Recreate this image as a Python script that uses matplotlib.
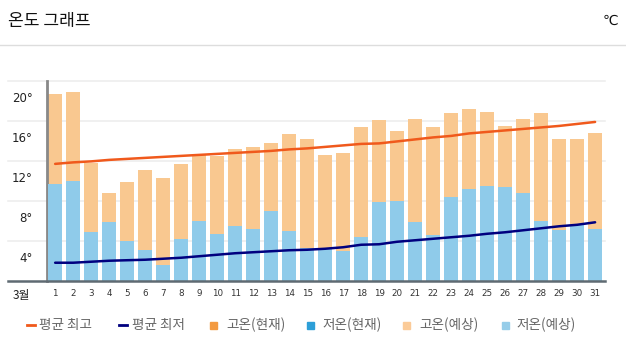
import matplotlib
matplotlib.use("Agg")
import matplotlib.pyplot as plt
from matplotlib.transforms import ScaledTranslation
from matplotlib.lines import Line2D
from matplotlib.patches import Rectangle

plt.rcParams['font.family'] = ['Noto Sans CJK KR', 'DejaVu Sans']

days = list(range(1, 32))
day_labels = [str(d) for d in days]
high = [18.7, 18.9, 11.8, 8.8, 9.9, 11.1, 10.3, 11.7, 12.6, 12.5, 13.2, 13.4, 13.8, 14.7, 14.2,
        12.6, 12.8, 15.4, 16.1, 15.0, 16.2, 15.4, 16.8, 17.2, 16.9, 15.5, 16.2, 16.8, 14.2, 14.2, 14.8]
low = [9.7, 10.0, 4.9, 5.9, 4.0, 3.1, 1.6, 4.2, 6.0, 4.7, 5.5, 5.2, 7.0, 5.0, 3.3,
       3.2, 3.0, 4.4, 7.9, 8.0, 5.9, 4.6, 8.4, 9.2, 9.5, 9.4, 8.8, 6.0, 5.1, 5.6, 5.2]
avg_high = [11.7, 11.85, 11.95, 12.1, 12.2, 12.3, 12.4, 12.5, 12.6, 12.7, 12.8, 12.9, 13.0, 13.15, 13.25,
            13.4, 13.55, 13.7, 13.75, 13.95, 14.15, 14.35, 14.5, 14.75, 14.9, 15.05, 15.2, 15.35, 15.5, 15.7, 15.9]
avg_low = [1.8, 1.8, 1.9, 2.0, 2.05, 2.1, 2.2, 2.3, 2.45, 2.6, 2.75, 2.85, 2.95, 3.05, 3.1,
           3.2, 3.35, 3.6, 3.65, 3.9, 4.05, 4.2, 4.35, 4.5, 4.7, 4.85, 5.05, 5.25, 5.45, 5.6, 5.85]
y_ticks = [4, 8, 12, 16, 20]
y_labels = ['4°', '8°', '12°', '16°', '20°']
legend_labels = ['평균 최고', '평균 최저', '고온(현재)', '저온(현재)', '고온(예상)', '저온(예상)']

c_high_bar = '#f9c890'
c_low_bar = '#8fcbea'
c_avg_high = '#f0591c'
c_avg_low = '#00007f'
legend_colors = [c_avg_high, c_avg_low, '#f39a40', '#2d9fd8', '#fbcb98', '#96cde9']

W, H = 626, 354
fig = plt.figure(figsize=(W / 100, H / 100), dpi=100)
left_px, right_px, top_px, bot_px = 46.7, 605, 81, 280.7
ax = fig.add_axes([left_px / W, 1 - bot_px / H, (right_px - left_px) / W, (bot_px - top_px) / H])

ax.bar(days, high, width=0.76, color=c_high_bar, zorder=2)
ax.bar(days, low, width=0.76, color=c_low_bar, zorder=3)
ax.plot(days, avg_high, color=c_avg_high, lw=1.8, zorder=4, solid_capstyle='round')
ax.plot(days, avg_low, color=c_avg_low, lw=1.8, zorder=4, solid_capstyle='round')

ax.set_xlim(0.53, 31.55)
ax.set_ylim(0, 20)
for s in ['top', 'right', 'bottom']:
    ax.spines[s].set_visible(False)
ax.spines['left'].set_color('#888888')
ax.spines['left'].set_linewidth(2)

xmin = (8 - left_px) / (right_px - left_px)
for v in y_ticks:
    ax.axhline(v, xmin=xmin, xmax=1, color='#eeeeee', lw=1.2, zorder=1, clip_on=False)
ax.axhline(0, xmin=xmin, xmax=1, color='#5f6a72', lw=1.8, zorder=5, clip_on=False)

ax.set_yticks(y_ticks)
ax.set_yticklabels(y_labels, fontsize=8.5, color='#222222', family=['DejaVu Sans'])
ax.tick_params(axis='y', length=0, pad=10)
off = ScaledTranslation(0, -16 / 100, fig.dpi_scale_trans)
for lab in ax.get_yticklabels():
    lab.set_transform(lab.get_transform() + off)

ax.set_xticks(days)
ax.set_xticklabels(day_labels, fontsize=6.3, color='#333333', family=['DejaVu Sans'])
ax.tick_params(axis='x', length=0, pad=6)

fig.text(21 / W, 1 - 295.5 / H, '3월', fontsize=8.5, ha='center', va='center', color='#222222')

# header
fig.text(8 / W, 1 - 21 / H, '온도 그래프', fontsize=12.3, ha='left', va='center', color='#111111')
fig.text(610 / W, 1 - 21 / H, '℃', fontsize=10, ha='center', va='center', color='#111111',
         family=['DejaVu Sans'])
fig.add_artist(Line2D([0, 1], [1 - 44.5 / H] * 2, transform=fig.transFigure, color='#dddddd', lw=1))

# legend
mark_x = [31, 123, 213, 310, 406, 505]
text_x = [39, 132, 226, 322, 419, 516]
ly = 1 - 325 / H
for i, lab in enumerate(legend_labels):
    if i < 2:
        fig.add_artist(Line2D([(mark_x[i] - 4) / W, (mark_x[i] + 4) / W], [ly, ly],
                              transform=fig.transFigure, color=legend_colors[i], lw=2))
    else:
        fig.add_artist(Rectangle(((mark_x[i] - 3.5) / W, ly - 3.5 / H), 7 / W, 7 / H,
                                 transform=fig.transFigure, color=legend_colors[i]))
    fig.text(text_x[i] / W, ly, lab, fontsize=9.8, ha='left', va='center', color='#666666')

fig.savefig('out.png', dpi=100)
